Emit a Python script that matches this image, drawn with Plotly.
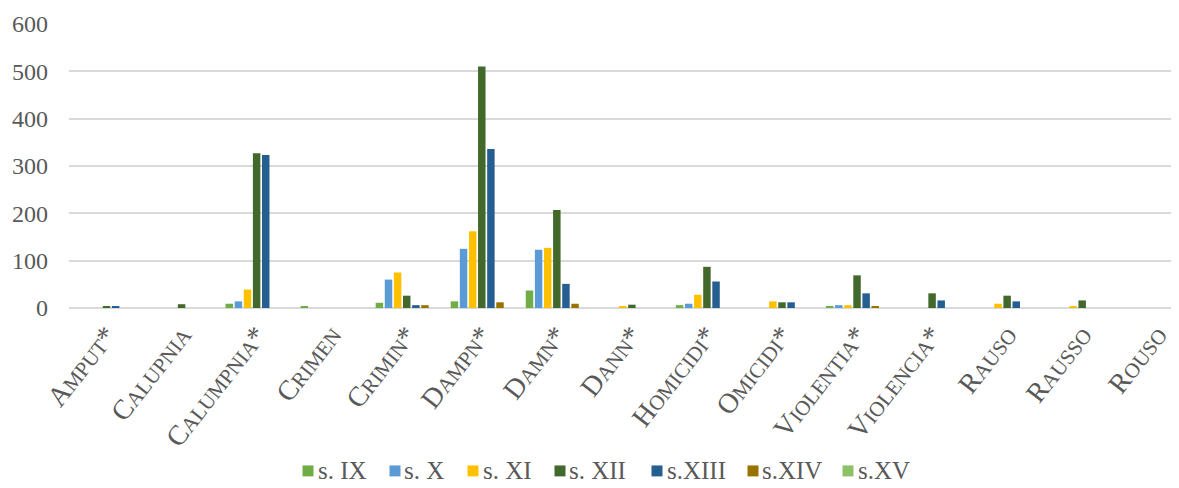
import plotly.graph_objects as go

categories = ["Amput*", "Calupnia", "Calumpnia*", "Crimen", "Crimin*", "Dampn*", "Damn*",
              "Dann*", "Homicidi*", "Omicidi*", "Violentia*", "Violencia*", "Rauso", "Rausso", "Rouso"]

# small-caps style tick labels (first letter large, rest small)
def small_caps(word):
    star = word.endswith("*")
    w = word.rstrip("*")
    s = w[0].upper() + "<span style='font-size:21px'>" + w[1:].upper() + "</span>"
    if star:
        s += "*"
    return s

tick_labels = [small_caps(c) for c in categories]

series_names = ["s. IX", "s. X", "s. XI", "s. XII", "s.XIII", "s.XIV", "s.XV"]
s_IX   = [0, 0, 9, 3, 11, 14, 37, 0, 6, 0, 4, 0, 0, 0, 0]
s_X    = [0, 0, 14, 0, 60, 125, 123, 0, 9, 0, 6, 0, 0, 0, 0]
s_XI   = [0, 0, 39, 0, 75, 162, 127, 4, 28, 14, 6, 0, 9, 3, 0]
s_XII  = [4, 8, 327, 0, 26, 510, 207, 7, 87, 12, 69, 31, 26, 16, 0]
s_XIII = [3, 0, 323, 0, 6, 336, 51, 0, 56, 12, 31, 16, 14, 0, 0]
s_XIV  = [0, 0, 0, 0, 6, 12, 9, 0, 0, 0, 4, 0, 0, 0, 0]
s_XV   = [0, 0, 0, 0, 0, 0, 0, 0, 0, 0, 0, 0, 0, 0, 0]
all_series = [s_IX, s_X, s_XI, s_XII, s_XIII, s_XIV, s_XV]
colors = ["#70AD47", "#5B9BD5", "#FFC000", "#43682B", "#255E91", "#997300", "#8CC168"]

W, H = 1171, 480
ML, MR, MT, MB = 61, 0, 15.5, 179.5
PW, PH = W - ML - MR, H - MT - MB

fig = go.Figure()
for name, vals, col in zip(series_names, all_series, colors):
    fig.add_trace(go.Bar(x=categories, y=vals, name=name, marker_color=col,
                         marker_line_width=0, showlegend=False))

font_family = "Liberation Serif"

# custom legend (swatch + label), placed in pixel terms converted to paper coords
def px2x(px):
    return (px - ML) / PW

def px2y(py):
    return (H - MB - py) / PH

legend_swatch_x = [300, 387, 465, 552, 649, 745, 840]
legend_text_x = [308, 394, 473, 559, 657, 752, 848]
legend_y = 464
sw = 11
shapes = []
annotations = []
for name, col, sx, tx in zip(series_names, colors, legend_swatch_x, legend_text_x):
    shapes.append(dict(type="rect", xref="paper", yref="paper",
                       x0=px2x(sx - sw / 2), x1=px2x(sx + sw / 2),
                       y0=px2y(legend_y + sw / 2), y1=px2y(legend_y - sw / 2),
                       fillcolor=col, line_width=0))
    annotations.append(dict(xref="paper", yref="paper", x=px2x(tx), y=px2y(legend_y),
                            xanchor="left", yanchor="middle", text=name, showarrow=False,
                            font=dict(family=font_family, size=25, color="#595959")))

fig.update_layout(
    width=W, height=H,
    margin=dict(l=ML, r=MR, t=MT, b=MB),
    plot_bgcolor="white", paper_bgcolor="white",
    barmode="group", bargap=0.15, bargroupgap=0.18,
    font=dict(family=font_family, color="#595959", size=20),
    showlegend=False,
    shapes=shapes, annotations=annotations,
)
fig.update_xaxes(tickmode="array", tickvals=categories, ticktext=tick_labels,
                 range=[-0.5, 14.29],
                 tickangle=-52, tickfont=dict(family=font_family, size=28, color="#595959"),
                 showgrid=False, showline=False, ticks="", automargin=False,
                 ticklabelstandoff=4)
fig.update_yaxes(range=[0, 600], dtick=100, showgrid=True, gridcolor="#D9D9D9", gridwidth=1.5,
                 zeroline=True, zerolinecolor="#D9D9D9", zerolinewidth=1.5,
                 tickfont=dict(family=font_family, size=24, color="#595959"),
                 ticks="", ticklabelstandoff=20, automargin=False)
fig.write_html("out.html")
